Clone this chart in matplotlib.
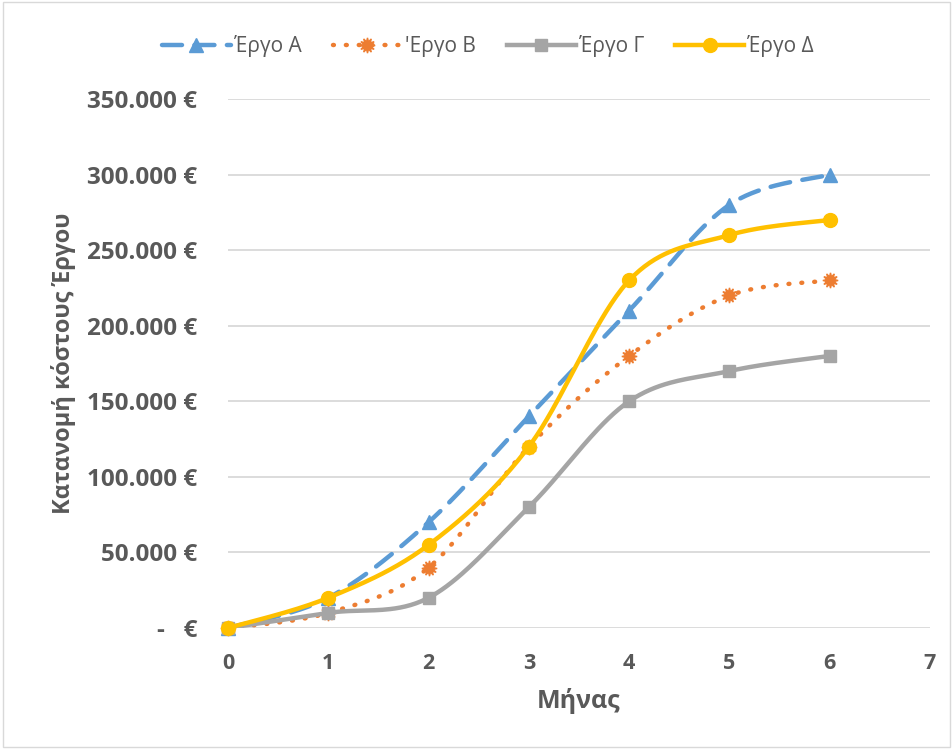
import numpy as np
import matplotlib.pyplot as plt
from matplotlib.ticker import FuncFormatter

# Μηνιαία σωρευτική κατανομή κόστους ανά έργο
months = [0, 1, 2, 3, 4, 5, 6]
ergo_a = [0, 20000, 70000, 140000, 210000, 280000, 300000]
ergo_b = [0, 10000, 40000, 120000, 180000, 220000, 230000]
ergo_g = [0, 10000, 20000, 80000, 150000, 170000, 180000]
ergo_d = [0, 20000, 55000, 120000, 230000, 260000, 270000]
labels = ["Έργο Α", "'Εργο Β", "Έργο Γ", "Έργο Δ"]


def smooth(x, y, n=40):
    # Catmull-Rom style bezier through the points (like a spreadsheet "smoothed line")
    x = np.asarray(x, float)
    y = np.asarray(y, float)
    px = np.concatenate([[x[0]], x, [x[-1]]])
    py = np.concatenate([[y[0]], y, [y[-1]]])
    xs, ys = [], []
    t = np.linspace(0, 1, n)
    for i in range(1, len(px) - 2):
        p0 = np.array([px[i], py[i]])
        p3 = np.array([px[i + 1], py[i + 1]])
        p1 = p0 + (np.array([px[i + 1], py[i + 1]]) - np.array([px[i - 1], py[i - 1]])) / 6
        p2 = p3 - (np.array([px[i + 2], py[i + 2]]) - np.array([px[i], py[i]])) / 6
        b = ((1 - t) ** 3)[:, None] * p0 + (3 * (1 - t) ** 2 * t)[:, None] * p1 \
            + (3 * (1 - t) * t ** 2)[:, None] * p2 + (t ** 3)[:, None] * p3
        xs.extend(b[:, 0])
        ys.extend(b[:, 1])
    return np.array(xs), np.array(ys)


plt.rcParams['font.family'] = ['Open Sans', 'DejaVu Sans']
grey = '#595959'

fig = plt.figure(figsize=(9.53, 7.49), dpi=100)
ax = fig.add_axes([228 / 953, 1 - 628 / 749, (930 - 228) / 953, (628 - 99) / 749])

series = [
    (ergo_a, '#5B9BD5', (0, (4.5, 2.8)), '^', 9.5),
    (ergo_b, '#ED7D31', (0, (0.2, 2.7)), (12, 1, 0), 11),
    (ergo_g, '#A5A5A5', '-', 's', 9),
    (ergo_d, '#FFC000', '-', 'o', 10),
]

handles = []
for k, ((vals, col, ls, mk, ms), lab) in enumerate(zip(series, labels)):
    sx, sy = smooth(months, vals)
    ax.plot(sx, sy, color=col, lw=3.2, linestyle=ls, dash_capstyle='round', zorder=2 + 2 * k)
    ax.plot(months, vals, linestyle='none', marker=mk, ms=ms, color=col,
            markeredgecolor=col, zorder=3 + 2 * k, clip_on=False)
    h, = ax.plot([], [], color=col, lw=3.2, linestyle=ls, marker=mk, ms=ms,
                 dash_capstyle='round', markeredgecolor=col, label=lab)
    handles.append(h)

ax.set_xlim(0, 7)
ax.set_ylim(0, 350000)
ax.set_xticks(range(0, 8))
ax.set_yticks(np.arange(0, 350001, 50000))


def euro(v, pos):
    if v == 0:
        return '-   €'
    return f"{int(v):,}".replace(',', '.') + ' €'


ax.yaxis.set_major_formatter(FuncFormatter(euro))
ax.grid(axis='y', color='#D9D9D9', lw=1.3)
ax.set_axisbelow(True)
for s in ax.spines.values():
    s.set_visible(False)
ax.tick_params(axis='y', length=0, labelsize=17.5, colors=grey, pad=22)
ax.tick_params(axis='x', length=0, labelsize=15.5, colors=grey, pad=18)
for t in ax.get_yticklabels() + ax.get_xticklabels():
    t.set_fontweight('bold')

ax.set_xlabel('Μήνας', fontsize=18, fontweight='bold', color=grey, labelpad=10)
ax.set_ylabel('Κατανομή κόστους Έργου', fontsize=17, fontweight='bold', color=grey, labelpad=8)

fig.legend(handles=handles, loc='center', bbox_to_anchor=(0.512, 1 - 46 / 749), ncol=4,
           frameon=False, fontsize=15, handlelength=3.3, columnspacing=1.5,
           handletextpad=0.15, labelcolor=grey)

fig.patches.append(plt.Rectangle((0.003, 0.003), 0.994, 0.994, transform=fig.transFigure,
                                 fill=False, edgecolor='#D9D9D9', lw=1))

fig.savefig('out.png', dpi=100)
